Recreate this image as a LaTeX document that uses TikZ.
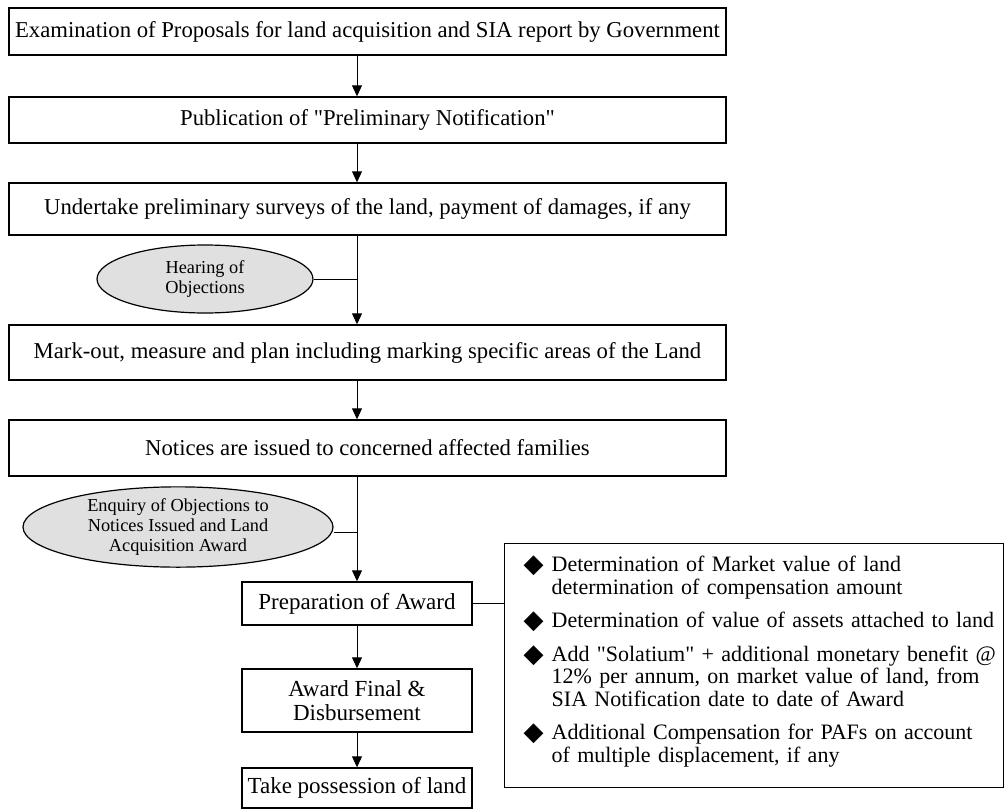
\documentclass[tikz,border=0pt]{standalone}
\usepackage{fontspec}
\setmainfont{Liberation Serif}[Ligatures=TeXOff]
\newfontfamily\symfont{DejaVu Sans}
\usetikzlibrary{positioning, shapes.geometric, arrows.meta}
\newcommand{\bul}{\smash{\raisebox{-1pt}{\symfont\fontsize{26}{26}\selectfont ◆}}}

\begin{document}
\begin{tikzpicture}[
    x=1pt, y=-1pt,
    stepbox/.style={draw, line width=1.4pt, minimum width=717pt, inner sep=0pt, align=center, font=\fontsize{22.7}{26}\selectfont},
    awardbox/.style={draw, line width=1.4pt, minimum width=230pt, inner sep=0pt, align=center, font=\fontsize{23}{24}\selectfont},
    objection/.style={ellipse, draw, line width=1.2pt, fill=black!12, inner sep=0pt, align=center, font=\fontsize{18.3}{20}\selectfont},
    arr/.style={line width=0.9pt, -{Triangle[length=11pt, width=10pt]}},
    link/.style={line width=0.9pt}
]
\useasboundingbox (0,0) rectangle (1005,809);

% Main steps
\node[stepbox, minimum height=47pt] (exam) at (367.5,31.5) {Examination of Proposals for land acquisition and SIA report by Government};
\node[stepbox, minimum height=46pt] (prelim) at (367.5,120) {Publication of "Preliminary Notification"};
\node[stepbox, minimum height=52pt] (survey) at (367.5,209) {Undertake preliminary surveys of the land, payment of damages, if any};
\node[stepbox, minimum height=55pt] (markout) at (367.5,352.5) {Mark-out, measure and plan including marking specific areas of the Land};
\node[stepbox, minimum height=56pt] (notices) at (367.5,448) {Notices are issued to concerned affected families};

% Award steps
\node[awardbox, minimum height=43pt] (prep) at (357,603.5) {Preparation of Award};
\node[awardbox, minimum height=63pt] (final) at (357,700.5) {Award Final \&\\ Disbursement};
\node[awardbox, minimum height=40pt] (possess) at (357,788) {Take possession of land};

% Objections
\node[objection, minimum width=216pt, minimum height=68pt] (hearing) at (205,279) {Hearing of\\ Objections};
\node[objection, minimum width=310pt, minimum height=80pt] (enquiry) at (178,527) {Enquiry of Objections to\\ Notices Issued and Land\\ Acquisition Award};

% Award computation
\node[draw, line width=1.4pt, anchor=north west, minimum height=244pt, text width=475pt, inner xsep=12pt, inner ysep=0pt, align=left, font=\fontsize{22}{22.5}\selectfont] (calc) at (504,543) {%
\begin{tabular}{@{\hspace{7pt}}l@{\hspace{8pt}}l@{}}
\bul & Determination of Market value of land\\
     & determination of compensation amount\\[11pt]
\bul & Determination of value of assets attached to land\\[11pt]
\bul & Add "Solatium" + additional monetary benefit @\\
     & 12\% per annum, on market value of land, from\\
     & SIA Notification date to date of Award\\[11pt]
\bul & Additional Compensation for PAFs on account\\
     & of multiple displacement, if any\\[6pt]
\end{tabular}};

% Edges
\coordinate (axis) at (357,0);
\draw[arr] (exam.south -| axis) -- (prelim.north -| axis);
\draw[arr] (prelim.south -| axis) -- (survey.north -| axis);
\draw[arr] (survey.south -| axis) -- (markout.north -| axis);
\draw[arr] (markout.south -| axis) -- (notices.north -| axis);
\draw[arr] (notices.south -| axis) -- (prep.north);
\draw[arr] (prep) -- (final);
\draw[arr] (final) -- (possess);
\draw[link] (hearing.east) -- (hearing.east -| axis);
\draw[link] ([yshift=-5pt]enquiry.east) -- ([yshift=-5pt]enquiry.east -| axis);
\draw[link] (prep.east) -- (prep.east -| calc.west);

\end{tikzpicture}
\end{document}
